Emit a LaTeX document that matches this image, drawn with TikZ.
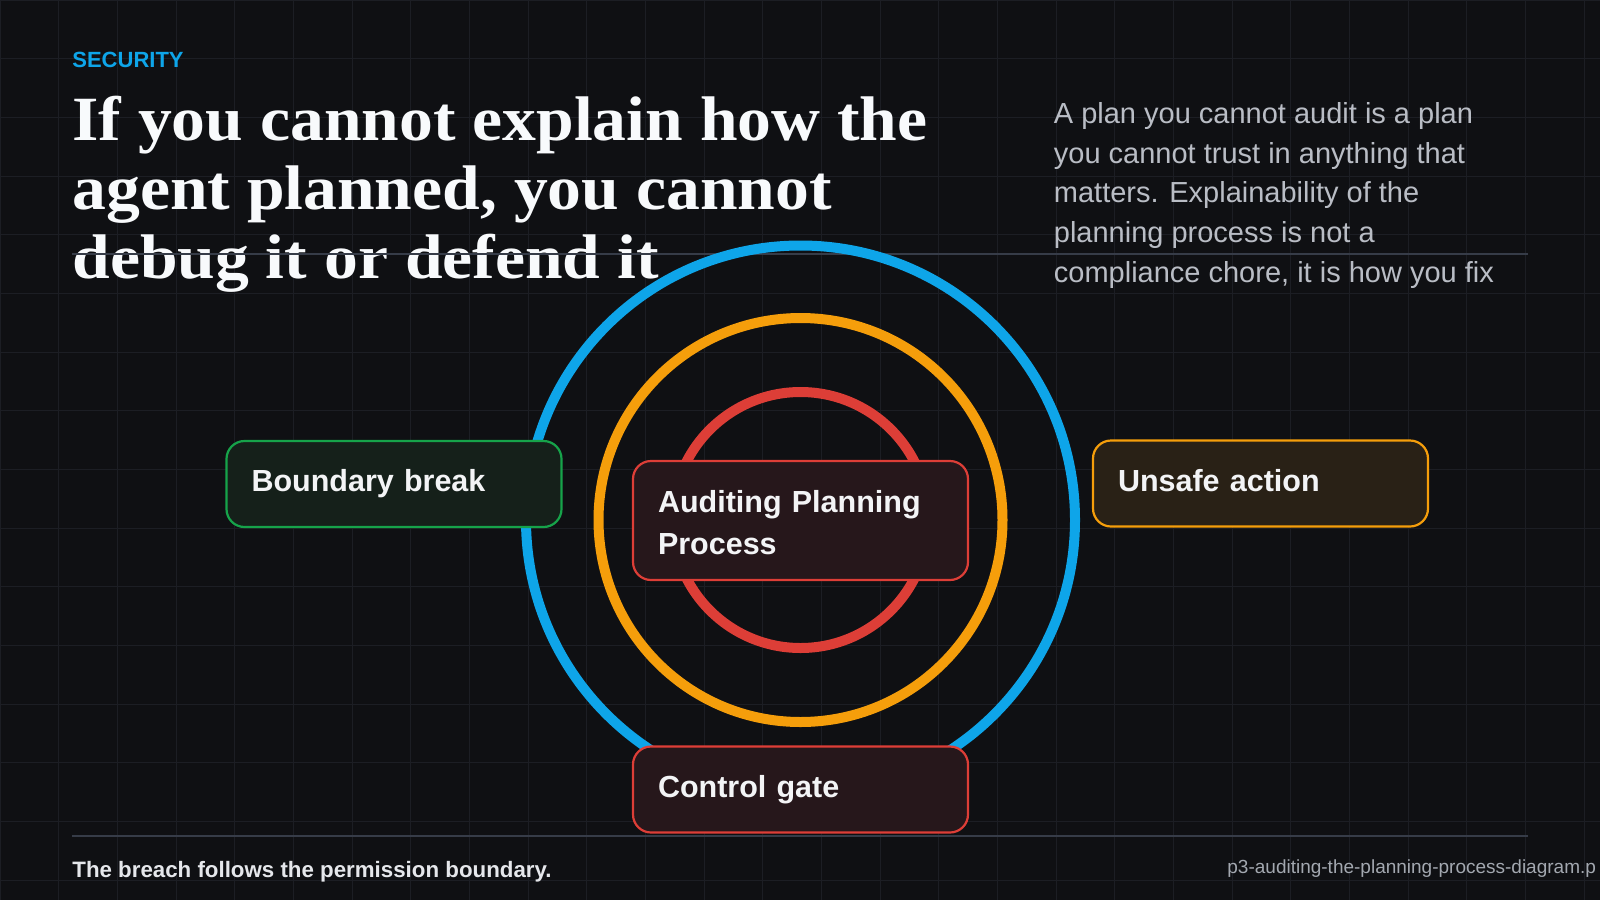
\documentclass[tikz,border=0pt]{standalone}
\usepackage{fontspec}
\setmainfont{Liberation Sans}
\newfontfamily\titlefont[FakeStretch=1.074]{Liberation Serif}
\definecolor{bg}{HTML}{0F1013}
\definecolor{gridc}{HTML}{1C1E24}
\definecolor{sepc}{HTML}{363C48}
\definecolor{skyc}{HTML}{0EA5E9}
\definecolor{amberc}{HTML}{F59E0B}
\definecolor{redc}{HTML}{DD3E37}
\definecolor{greenc}{HTML}{16A34A}
\definecolor{greenfill}{HTML}{15201A}
\definecolor{amberfill}{HTML}{292116}
\definecolor{redfill}{HTML}{26171B}
\definecolor{titlec}{HTML}{F8FAFC}
\definecolor{parac}{HTML}{B9BDC5}
\definecolor{footc}{HTML}{E5E7EB}
\definecolor{filec}{HTML}{A3A8B0}
\definecolor{labelc}{HTML}{F3F4F6}
\begin{document}
\begin{tikzpicture}[x=0.5pt,y=-0.5pt,
  gridline/.style={draw=gridc,line width=0.5pt},
  sepline/.style={draw=sepc,line width=1pt},
  ring/.style={line width=5pt},
  txt/.style={inner sep=0pt,anchor=base west},
  titletxt/.style={txt,text=titlec,font=\titlefont\bfseries\fontsize{31.5pt}{34.5pt}\selectfont},
  paratxt/.style={txt,text=parac,font=\fontsize{14.5pt}{19.8pt}\selectfont},
  box/.style={rounded corners=9pt,line width=1.1pt,inner xsep=12.5pt,inner ysep=0pt,
    text width=142.5pt,align=left,text=labelc,
    font=\bfseries\fontsize{15.25pt}{20.8pt}\selectfont},
  onebox/.style={box,minimum height=43pt,text height=0.98em,text depth=0.21em},
  greenbox/.style={onebox,draw=greenc,fill=greenfill},
  amberbox/.style={onebox,draw=amberc,fill=amberfill},
  redbox/.style={onebox,draw=redc,fill=redfill},
  redtwobox/.style={box,draw=redc,fill=redfill,minimum height=59.5pt,
    text height=0.92em,text depth=17pt}
]
\useasboundingbox (0,0) rectangle (1600,900);
\clip (0,0) rectangle (1600,900);
\fill[bg] (0,0) rectangle (1600,900);
% grid
\foreach \i in {0,...,27} \draw[gridline] (\i*58.667,0) -- (\i*58.667,900);
\foreach \j in {0,...,15} \draw[gridline] (0,\j*58.667) -- (1600,\j*58.667);
% header
\node[txt,text=skyc,font=\bfseries\fontsize{11pt}{13pt}\selectfont] (sec) at (72,67) {SECURITY};
\node[titletxt] (title1) at (72,140) {If you cannot explain how the};
\node[titletxt] (title2) at (72,209) {agent planned, you cannot};
\node[titletxt] (title3) at (72,278) {debug it or defend it};
\node[paratxt] (para1) at (1053.5,123.7) {A plan you cannot audit is a plan};
\node[paratxt] (para2) at (1053.5,163.3) {you cannot trust in anything that};
\node[paratxt] (para3) at (1053.5,202.9) {matters. Explainability of the};
\node[paratxt] (para4) at (1053.5,242.5) {planning process is not a};
\node[paratxt] (para5) at (1053.5,282.1) {compliance chore, it is how you fix};
% separators
\draw[sepline] (72,254) -- (1528,254);
\draw[sepline] (72,836) -- (1528,836);
% rings
\draw[ring,draw=skyc] (800.5,520) circle[radius=274.5];
\draw[ring,draw=amberc] (800.5,520) circle[radius=202];
\draw[ring,draw=redc] (800.5,520) circle[radius=128];
% boxes
\node[greenbox] (boundary) at (394,484) {Boundary break};
\node[amberbox] (unsafe) at (1260.5,483.5) {Unsafe action};
\node[redtwobox] (audit) at (800.5,520.5) {Auditing Planning\\Process};
\node[redbox] (gate) at (800.5,789.5) {Control gate};
% footer
\node[txt,text=footc,font=\bfseries\fontsize{11.15pt}{13pt}\selectfont] (footL) at (72,877) {The breach follows the permission boundary.};
\node[txt,text=filec,font=\fontsize{9.5pt}{11pt}\selectfont] (footR) at (1227,873) {p3-auditing-the-planning-process-diagram.p};
\end{tikzpicture}
\end{document}
